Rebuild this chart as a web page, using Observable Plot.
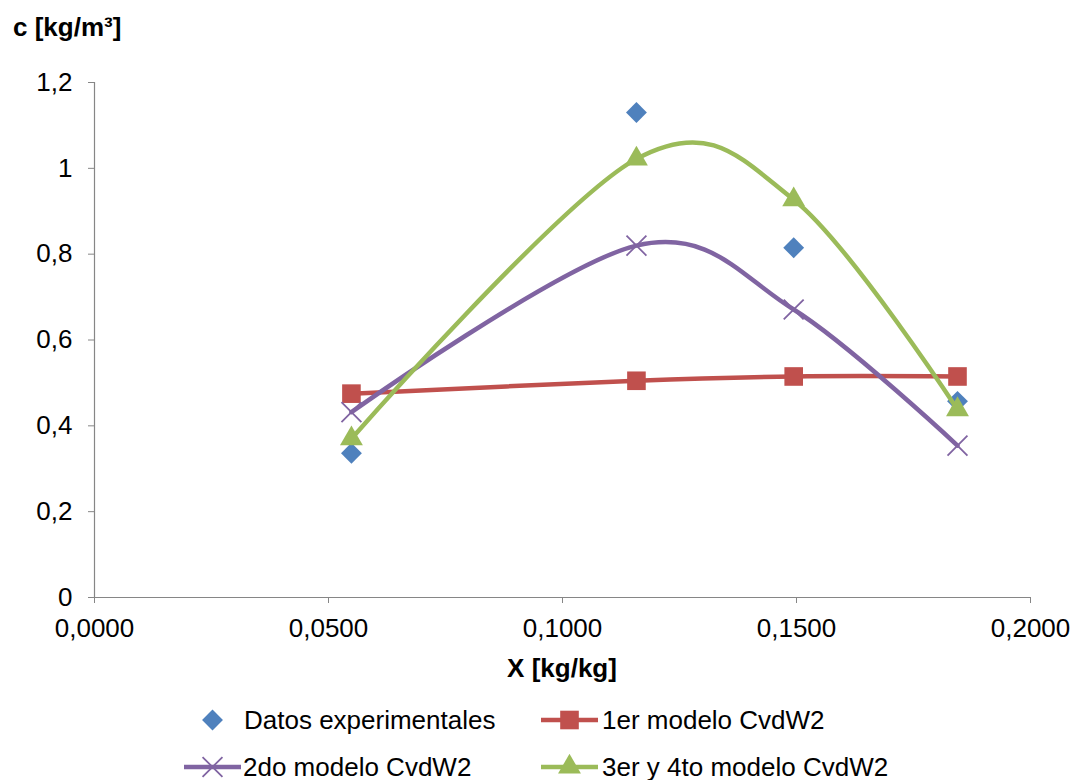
<!DOCTYPE html>
<html>
<head>
<meta charset="utf-8">
<script src="https://cdn.jsdelivr.net/npm/d3@7"></script>
<script src="https://cdn.jsdelivr.net/npm/@observablehq/plot@0.6"></script>
<style>
  html, body { margin: 0; padding: 0; background: #fff; }
  #wrap { position: relative; width: 1082px; height: 780px; font-family: "Liberation Sans", Arial, sans-serif; color: #000; }
  .lbl { position: absolute; font-size: 26px; font-weight: bold; white-space: nowrap; line-height: 1; }
  .leg { position: absolute; font-size: 26px; white-space: nowrap; display: flex; align-items: center; line-height: 1; }
  .leg svg { display: block; }
</style>
</head>
<body>
<div id="wrap"></div>
<script>
// ---- data ----
const xValues = [0.0549, 0.1158, 0.1494, 0.1844];
const datosExperimentales = [0.336, 1.130, 0.815, 0.457];
const modelo1 = [0.475, 0.505, 0.515, 0.515];
const modelo2 = [0.432, 0.820, 0.671, 0.354];
const modelo34 = [0.370, 1.022, 0.927, 0.438];
const seriesNames = ["Datos experimentales", "1er modelo CvdW2", "2do modelo CvdW2", "3er y 4to modelo CvdW2"];
const xTicks = [0, 0.05, 0.10, 0.15, 0.20];
const yTicks = [0, 0.2, 0.4, 0.6, 0.8, 1, 1.2];
const yTitle = "c [kg/m³]";
const xTitle = "X [kg/kg]";

const colors = {blue: "#4F81BD", red: "#C0504D", purple: "#8064A2", green: "#9BBB59"};
const rows = (vals) => xValues.map((x, i) => ({x, y: vals[i]}));
const d0 = rows(datosExperimentales), d1 = rows(modelo1), d2 = rows(modelo2), d3r = rows(modelo34);

const axisColor = "#868686";
const commaFmt = (s) => s.replace(".", ",");

const chart = Plot.plot({
  width: 1082,
  height: 690,
  marginLeft: 94,
  marginRight: 52,
  marginTop: 82,
  marginBottom: 93,
  style: {fontFamily: "'Liberation Sans', Arial, sans-serif", fontSize: "26px", color: "#000", background: "#fff", overflow: "visible"},
  x: {domain: [0, 0.2]},
  y: {domain: [0, 1.2]},
  marks: [
    Plot.ruleX([0], {stroke: axisColor, strokeWidth: 1.2}),
    Plot.ruleY([0], {stroke: axisColor, strokeWidth: 1.2}),
    Plot.axisY({ticks: yTicks, tickFormat: d => commaFmt(String(d)), tickSize: 6, tickPadding: 16, stroke: axisColor, strokeOpacity: 1, label: null, fill: "#000"}),
    Plot.axisX({ticks: xTicks, tickFormat: d => commaFmt(d3.format(".4f")(d)), tickSize: 6, tickPadding: 15, stroke: axisColor, strokeOpacity: 1, label: null, fill: "#000"}),
    // series 0: experimental points
    Plot.dot(d0, {x: "x", y: "y", symbol: "diamond2", r: 9.4, fill: colors.blue, stroke: "none"}),
    // series 1
    Plot.line(d1, {x: "x", y: "y", curve: "cardinal", stroke: colors.red, strokeWidth: 4.5}),
    Plot.dot(d1, {x: "x", y: "y", symbol: "square", r: 10.5, fill: colors.red, stroke: "none"}),
    // series 2
    Plot.line(d2, {x: "x", y: "y", curve: "cardinal", stroke: colors.purple, strokeWidth: 4.5}),
    Plot.dot(d2, {x: "x", y: "y", symbol: "times", r: 9.1, stroke: colors.purple, strokeWidth: 1.8}),
    // series 3
    Plot.line(d3r, {x: "x", y: "y", curve: "cardinal", stroke: colors.green, strokeWidth: 4.5}),
    Plot.dot(d3r, {x: "x", y: "y", symbol: "triangle", r: 8.5, fill: colors.green, stroke: "none"})
  ]
});

const wrap = document.getElementById("wrap");
chart.style.position = "absolute";
chart.style.left = "0px";
chart.style.top = "0px";
wrap.appendChild(chart);

// titles
const t1 = document.createElement("div");
t1.className = "lbl"; t1.textContent = yTitle;
t1.style.left = "13px"; t1.style.top = "14px";
wrap.appendChild(t1);

const t2 = document.createElement("div");
t2.className = "lbl"; t2.textContent = xTitle;
t2.style.left = "562px"; t2.style.top = "655px"; t2.style.transform = "translateX(-50%)";
wrap.appendChild(t2);

// legend
function swatch(kind) {
  const svg = d3.create("svg").attr("width", 57).attr("height", 26);
  const cx = 28.5, cy = 13;
  if (kind === 0) {
    svg.append("path").attr("d", d3.symbol(d3.symbolDiamond2, Math.PI * 9.4 * 9.4)()).attr("transform", `translate(${cx},${cy})`).attr("fill", colors.blue);
  } else {
    const col = [null, colors.red, colors.purple, colors.green][kind];
    svg.append("line").attr("x1", 0).attr("x2", 57).attr("y1", cy).attr("y2", cy).attr("stroke", col).attr("stroke-width", 4.5);
    if (kind === 1) svg.append("path").attr("d", d3.symbol(d3.symbolSquare, Math.PI * 10.5 * 10.5)()).attr("transform", `translate(${cx},${cy})`).attr("fill", col);
    if (kind === 2) svg.append("path").attr("d", d3.symbol(d3.symbolTimes, Math.PI * 9.1 * 9.1)()).attr("transform", `translate(${cx},${cy})`).attr("fill", "none").attr("stroke", col).attr("stroke-width", 1.8);
    if (kind === 3) svg.append("path").attr("d", d3.symbol(d3.symbolTriangle, Math.PI * 8.5 * 8.5)()).attr("transform", `translate(${cx},${cy})`).attr("fill", col);
  }
  return svg.node();
}
const legPos = [
  {left: 184, top: 707, gap: 3},
  {left: 541, top: 707, gap: 4},
  {left: 184, top: 754, gap: 2},
  {left: 541, top: 754, gap: 4}
];
seriesNames.forEach((name, i) => {
  const item = document.createElement("div");
  item.className = "leg";
  item.style.left = legPos[i].left + "px";
  item.style.top = legPos[i].top + "px";
  item.appendChild(swatch(i));
  const sp = document.createElement("span");
  sp.textContent = name;
  sp.style.marginLeft = legPos[i].gap + "px";
  item.appendChild(sp);
  wrap.appendChild(item);
});
</script>
</body>
</html>
